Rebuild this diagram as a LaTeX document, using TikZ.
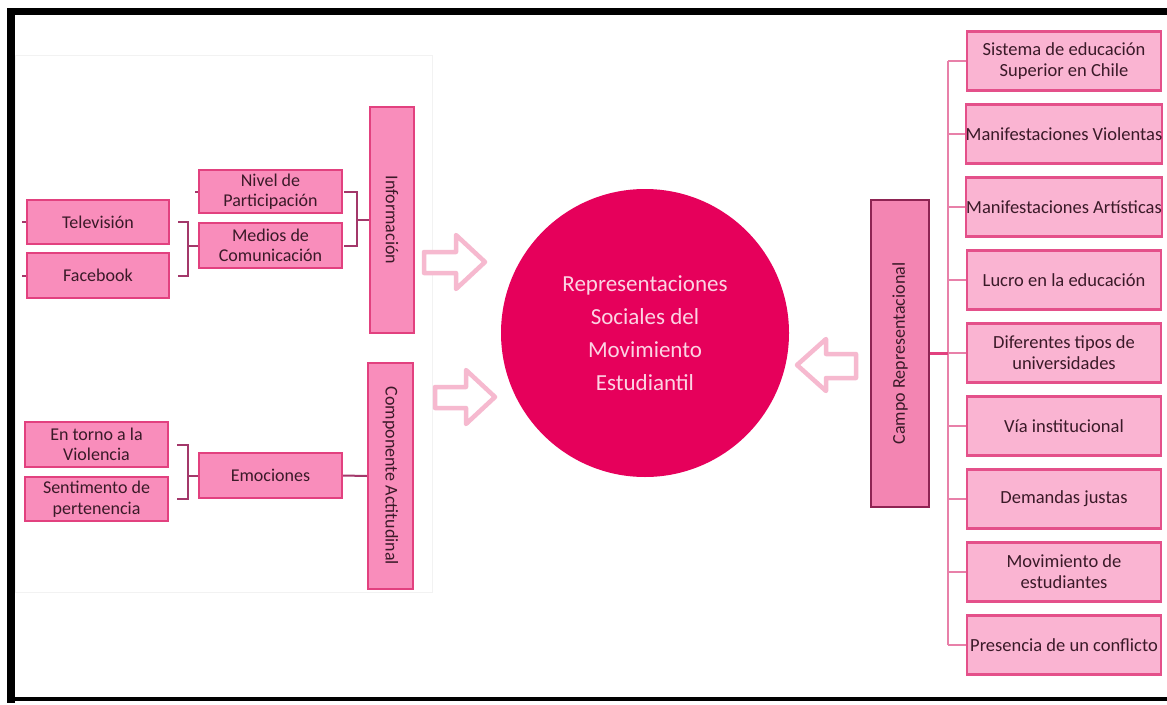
\documentclass[tikz,border=0pt]{standalone}
\usepackage{fontspec}
\usepackage{graphicx}
\setmainfont{Carlito}
\usetikzlibrary{calc}
\definecolor{boxfill}{HTML}{F98DBB}
\definecolor{boxdraw}{HTML}{E2417F}
\definecolor{rfill}{HTML}{FAB4D2}
\definecolor{rdraw}{HTML}{E4508A}
\definecolor{campofill}{HTML}{F385B2}
\definecolor{campodraw}{HTML}{8E2453}
\definecolor{linkcol}{HTML}{A3386A}
\definecolor{trunkcol}{HTML}{E880A9}
\definecolor{circcol}{HTML}{E6005B}
\definecolor{circtext}{HTML}{FCD3E3}
\definecolor{arrowcol}{HTML}{F6B9CF}
\definecolor{txtcol}{HTML}{3A1A28}
\begin{document}
\begin{tikzpicture}[x=1pt,y=-1pt,
  lbox/.style={draw=boxdraw,fill=boxfill,line width=2.2pt,inner sep=0pt,
    text=txtcol,align=center,font=\fontsize{18}{20.5}\selectfont},
  rbox/.style={draw=rdraw,fill=rfill,line width=2.2pt,inner sep=0pt,
    text=txtcol,align=center,font=\fontsize{18.5}{21}\selectfont,
    minimum width=194pt,minimum height=59pt},
  cbox/.style={draw=campodraw,fill=campofill,line width=2.2pt,inner sep=0pt,
    text=txtcol,align=center,font=\fontsize{18}{20.5}\selectfont},
  lk/.style={draw=linkcol,line width=2pt},
  trunk/.style={draw=trunkcol,line width=2.6pt},
  hollow/.style={draw=arrowcol,line width=4.5pt,line join=round,fill=white},
  frame/.style={draw=black,line cap=rect}
]
\useasboundingbox (0,0) rectangle (1167,704);
\fill[white] (0,0) rectangle (1167,704);
% faint background panel
\draw[black!5,line width=0.8pt] (15,55) rectangle (432,592);
% black frame
\draw[frame,line width=8pt] (11,12) -- (11,699);
\draw[frame,line width=7pt] (11,11.5) -- (1167,11.5);
\draw[frame,line width=4pt] (11,699) -- (1167,699);

% left column
\node[lbox,minimum width=142pt,minimum height=44pt] (tv) at (98,222) {Televisión};
\node[lbox,minimum width=142pt,minimum height=45pt] (fb) at (98,275.5) {Facebook};
\node[lbox,minimum width=143pt,minimum height=43pt] (niv) at (270.5,191.5) {Nivel de\\Participación};
\node[lbox,minimum width=143pt,minimum height=45pt] (med) at (270.5,245.5) {Medios de\\Comunicación};
\node[lbox,minimum width=44pt,minimum height=226pt] (info) at (392,220) {\rotatebox{-90}{Información}};

\node[lbox,minimum width=143pt,minimum height=45pt] (vio) at (96.5,444.5) {En torno a la\\Violencia};
\node[lbox,minimum width=143pt,minimum height=44pt] (sen) at (96.5,499) {Sentimento de\\pertenencia};
\node[lbox,minimum width=143pt,minimum height=45pt] (emo) at (270.5,475.5) {Emociones};
\node[lbox,minimum width=45pt,minimum height=226pt] (comp) at (390.5,476) {\rotatebox{-90}{Componente Actitudinal}};

% small ticks
\coordinate (tk1) at (22,222);
\coordinate (tk2) at (22,275.5);
\coordinate (tk3) at (195,191.5);
\draw[lk] (tk1) -- (tv.west);
\draw[lk] (tk2) -- (fb.west);
\draw[lk] (tk3) -- (niv.west);

% brackets
\draw[lk] ([xshift=8pt]tv.east) -- ++(10,0) coordinate (b1) -- (b1 |- fb.east) -- ([xshift=8pt]fb.east);
\draw[lk] (b1 |- med.west) -- (med.west);
\draw[lk] ([xshift=1pt]niv.east) -- ++(13,0) coordinate (b2) -- (b2 |- med.east) -- ([xshift=1pt]med.east);
\draw[lk] (b2 |- info.west) -- (info.west);
\draw[lk] ([xshift=8pt]vio.east) -- ++(11,0) coordinate (b3) -- (b3 |- sen.east) -- ([xshift=8pt]sen.east);
\draw[lk] (b3 |- emo.west) -- (emo.west);
\draw[lk] (emo.east) -- (comp.west);

% central circle
\node[circle,fill=circcol,minimum size=288pt,inner sep=0pt,text=circtext,align=center,
  font=\fontsize{23}{33}\selectfont] (rs) at (645,333)
  {Representaciones\\Sociales del\\Movimiento\\Estudiantil};

% hollow arrows
\draw[hollow] (424,252) -- (456,252) -- (456,235) -- (485,262) -- (456,289) -- (456,273) -- (424,273) -- cycle;
\draw[hollow] (435,387) -- (466,387) -- (466,370) -- (495,397) -- (466,424) -- (466,408) -- (435,408) -- cycle;
\draw[hollow] (856,354) -- (826,354) -- (826,339) -- (797,365) -- (826,391) -- (826,378) -- (856,378) -- cycle;

% right column
\node[cbox,minimum width=58pt,minimum height=307pt] (campo) at (900,353.5) {\rotatebox{90}{Campo Representacional}};
\node[rbox] (r1) at (1064,61) {Sistema de educación\\Superior en Chile};
\node[rbox] (r2) at (1064,134) {Manifestaciones Violentas};
\node[rbox] (r3) at (1064,207) {Manifestaciones Artísticas};
\node[rbox] (r4) at (1064,280) {Lucro en la educación};
\node[rbox] (r5) at (1064,353) {Diferentes tipos de\\universidades};
\node[rbox] (r6) at (1064,426) {Vía institucional};
\node[rbox] (r7) at (1064,499) {Demandas justas};
\node[rbox] (r8) at (1064,572) {Movimiento de\\estudiantes};
\node[rbox] (r9) at (1064,645) {Presencia de un conflicto};

\coordinate (tr) at (948,0);
\draw[trunk] (tr |- r1.west) -- (tr |- r9.west);
\foreach \i in {1,...,9} {\draw[trunk] (tr |- r\i.west) -- (r\i.west);}
\draw[draw=boxdraw,line width=2.6pt] (campo.east) -- (tr |- campo.east);
\end{tikzpicture}
\end{document}
